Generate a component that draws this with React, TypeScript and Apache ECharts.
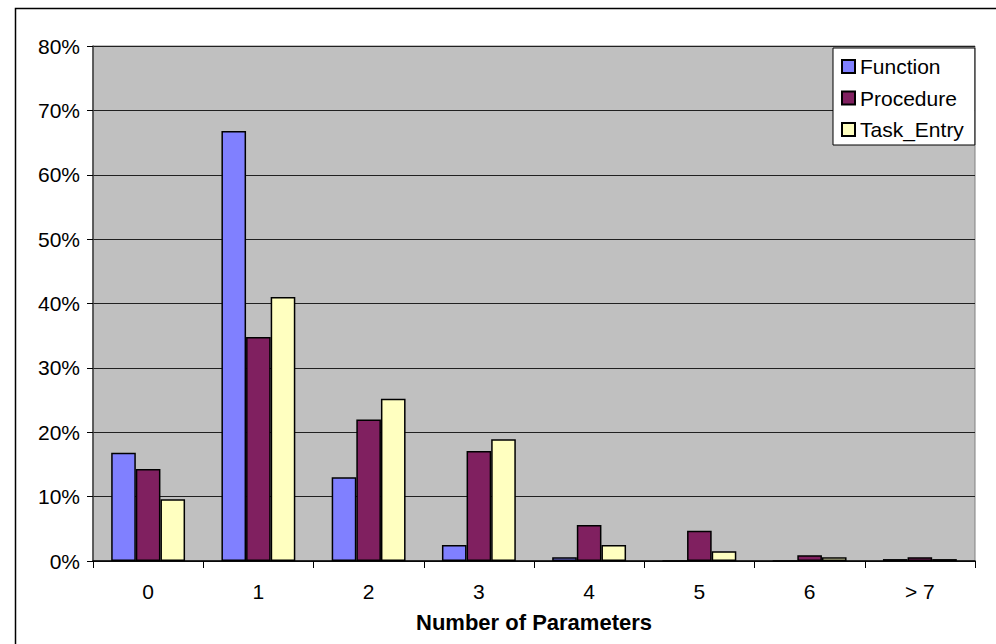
import React, { useEffect, useRef } from "react";
import * as echarts from "echarts";

const categories = ["0", "1", "2", "3", "4", "5", "6", "> 7"];
const functionValues = [16.8, 66.8, 13.0, 2.5, 0.6, 0, 0, 0.3];
const procedureValues = [14.3, 34.8, 22.0, 17.1, 5.6, 4.7, 0.9, 0.6];
const taskEntryValues = [9.6, 41.0, 25.2, 18.9, 2.5, 1.5, 0.6, 0.3];
const seriesNames = ["Function", "Procedure", "Task_Entry"];
const seriesColors = ["#8080FF", "#802060", "#FFFFC0"];

const FONT = "'Liberation Sans', Arial, sans-serif";

export default function App() {
  const ref = useRef<HTMLDivElement>(null);
  useEffect(() => {
    if (!ref.current) return;
    const chart = echarts.init(ref.current, undefined, { renderer: "svg" });
    const values = [functionValues, procedureValues, taskEntryValues];
    chart.setOption({
      animation: false,
      backgroundColor: "#ffffff",
      textStyle: { fontFamily: FONT },
      graphic: [
        {
          type: "rect",
          left: 13,
          top: 6,
          shape: { width: 1000, height: 700 },
          style: { fill: "none", stroke: "#000000", lineWidth: 1.5 },
          silent: true,
        },
      ],
      grid: {
        left: 93,
        top: 46,
        width: 882,
        height: 515,
        show: true,
        backgroundColor: "#C0C0C0",
        borderColor: "#808080",
        borderWidth: 1,
      },
      legend: {
        orient: "vertical",
        left: 833,
        top: 48,
        padding: [8, 11, 5, 8],
        itemGap: 10.5,
        itemWidth: 13,
        itemHeight: 13,
        backgroundColor: "#ffffff",
        borderColor: "#000000",
        borderWidth: 1,
        icon: "rect",
        data: seriesNames,
        textStyle: { fontSize: 21, color: "#000000", fontFamily: FONT },
      },
      xAxis: {
        type: "category",
        data: categories,
        axisLine: { show: true, lineStyle: { color: "#000000", width: 1.5 } },
        axisTick: { show: true, length: 7, lineStyle: { color: "#000000" } },
        axisLabel: { fontSize: 21, color: "#000000", margin: 20, fontFamily: FONT },
        name: "Number of Parameters",
        nameLocation: "middle",
        nameGap: 50,
        nameTextStyle: { fontSize: 22, fontWeight: "bold", color: "#000000", fontFamily: FONT },
      },
      yAxis: {
        type: "value",
        min: 0,
        max: 80,
        interval: 10,
        axisLine: { show: true, lineStyle: { color: "#404040", width: 1.5 } },
        axisTick: { show: true, length: 6, lineStyle: { color: "#000000" } },
        axisLabel: { fontSize: 21, color: "#000000", margin: 13, formatter: "{value}%", fontFamily: FONT },
        splitLine: { show: true, lineStyle: { color: "#202020", width: 1 } },
      },
      series: seriesNames.map((name, i) => ({
        name,
        type: "bar",
        data: values[i],
        barGap: "0%",
        barCategoryGap: "33%",
        itemStyle: { color: seriesColors[i], borderColor: "#000000", borderWidth: 1.5 },
      })),
    });
    return () => chart.dispose();
  }, []);
  return (
    <div
      ref={ref}
      style={{ position: "absolute", left: 0, top: 0, width: 996, height: 644 }}
    />
  );
}
